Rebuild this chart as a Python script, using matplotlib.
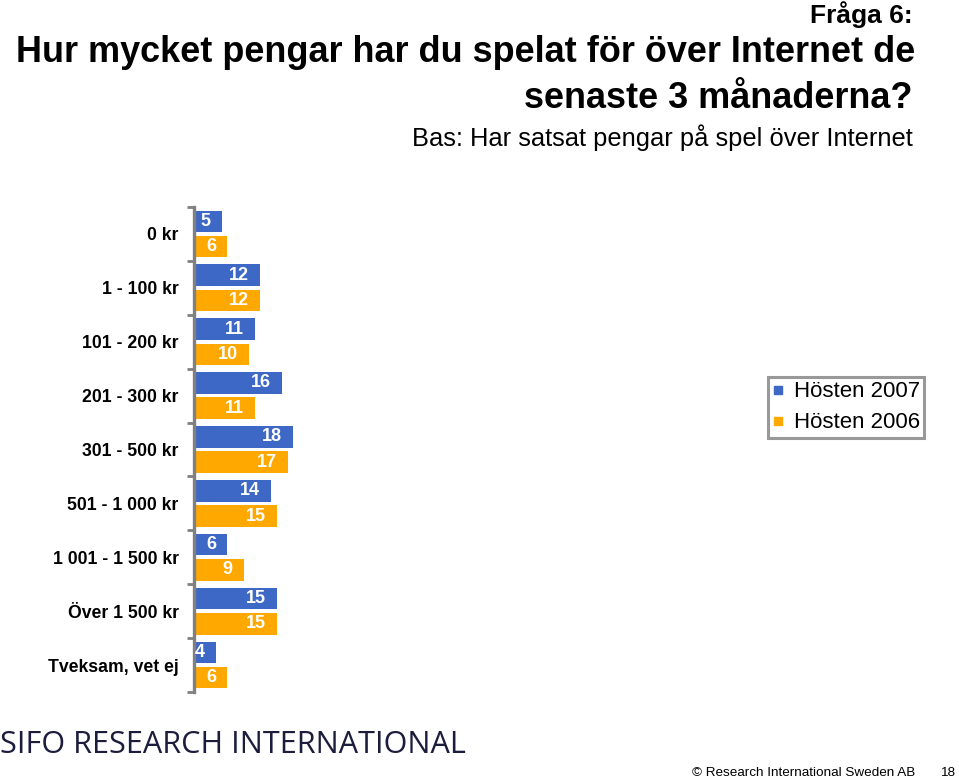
import numpy as np
import matplotlib
matplotlib.use("Agg")
import matplotlib.pyplot as plt
from matplotlib.lines import Line2D

# Data
categories = ['0 kr', '1 - 100 kr', '101 - 200 kr', '201 - 300 kr', '301 - 500 kr',
              '501 - 1 000 kr', '1 001 - 1 500 kr', 'Över 1 500 kr', 'Tveksam, vet ej']
hosten_2007 = [5, 12, 11, 16, 18, 14, 6, 15, 4]
hosten_2006 = [6, 12, 10, 11, 17, 15, 9, 15, 6]
series_names = ['Hösten 2007', 'Hösten 2006']

BLUE = '#3d68c6'
ORANGE = '#ffa900'
GRAY = '#808080'

plt.rcParams['font.family'] = ['Liberation Sans', 'DejaVu Sans']

W, H = 959, 780
fig = plt.figure(figsize=(W / 100, H / 100), dpi=100)

# axes placed in pixel coordinates
ax_left, ax_right, ax_top, ax_bottom = 194, 760, 207, 692
ax = fig.add_axes([ax_left / W, 1 - ax_bottom / H,
                   (ax_right - ax_left) / W, (ax_bottom - ax_top) / H])

y = np.arange(len(categories))
h = 0.40
off = 0.235
b1 = ax.barh(y - off, hosten_2007, height=h, color=BLUE)
b2 = ax.barh(y + off, hosten_2006, height=h, color=ORANGE)

for bars in (b1, b2):
    ax.bar_label(bars, padding=-8, color='white', fontsize=13,
                 fontweight='bold', label_type='edge')
for t in ax.texts:
    t.set_horizontalalignment('right')

ax.set_xlim(0, (ax_right - ax_left) / 5.5)
ax.set_ylim(len(categories) - 0.5, -0.5)

for s in ('top', 'right', 'bottom'):
    ax.spines[s].set_visible(False)
ax.spines['left'].set_color(GRAY)
ax.spines['left'].set_linewidth(2.4)
ax.set_xticks([])

ax.set_yticks(y)
ax.set_yticklabels(categories, fontsize=12.7, fontweight='bold')
ax.tick_params(axis='y', which='major', length=0, pad=11)
ax.set_yticks(np.arange(len(categories) + 1) - 0.5, minor=True)
ax.tick_params(axis='y', which='minor', length=5, width=2, color=GRAY)

handles = [Line2D([], [], linestyle='none', marker='s', markersize=6,
                  color=c) for c in (BLUE, ORANGE)]
leg = fig.legend(handles, series_names, loc='upper left',
                 bbox_to_anchor=(768 / W, 1 - 377 / H), fontsize=16,
                 frameon=True, fancybox=False, handlelength=0.5,
                 handletextpad=0.45, borderpad=0.2, labelspacing=0.45,
                 borderaxespad=0)
leg.get_frame().set_edgecolor(GRAY)
leg.get_frame().set_linewidth(2.2)

# Titles
fig.text(913 / W, 1 - 15 / H, 'Fråga 6:', ha='right', va='center',
         fontsize=19, fontweight='bold')
fig.text(915 / W, 1 - 52 / H,
         'Hur mycket pengar har du spelat för över Internet de',
         ha='right', va='center', fontsize=25.9, fontweight='bold')
fig.text(913 / W, 1 - 99 / H, 'senaste 3 månaderna?', ha='right',
         va='center', fontsize=25.9, fontweight='bold')
fig.text(913 / W, 1 - 138 / H, 'Bas: Har satsat pengar på spel över Internet',
         ha='right', va='center', fontsize=18.4)

# Footer
fig.text(0 / W, 1 - 745 / H, 'SIFO RESEARCH INTERNATIONAL', ha='left',
         va='center', fontsize=22.1, color='#1c1c3c', family='Open Sans')
fig.text(915 / W, 1 - 773 / H, '© Research International Sweden AB',
         ha='right', va='center', fontsize=9.7)
fig.text(955 / W, 1 - 773 / H, '18', ha='right', va='center', fontsize=9.7)

fig.savefig('out.png', dpi=100)
